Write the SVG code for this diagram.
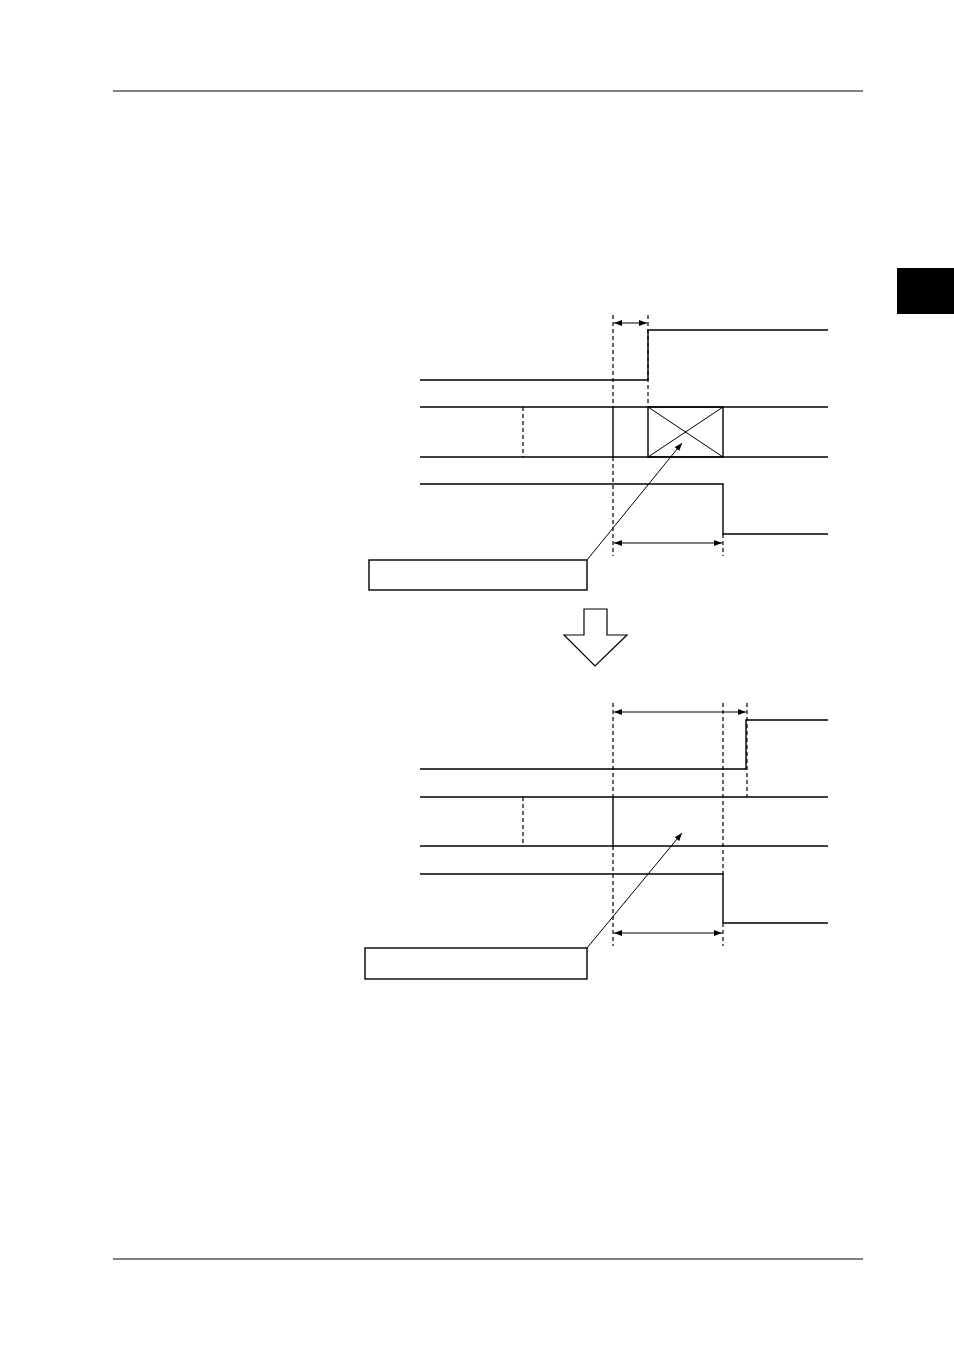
<svg xmlns="http://www.w3.org/2000/svg" width="954" height="1351" viewBox="0 0 954 1351">
<defs>
<marker id="ah" viewBox="0 0 8 6" refX="8" refY="3" markerWidth="8" markerHeight="6" markerUnits="userSpaceOnUse" orient="auto-start-reverse">
<path d="M0,0 L8,3 L0,6 z" fill="#000"/>
</marker>
<style>
.s{fill:none;stroke:#000;stroke-width:1.4}
.t{fill:none;stroke:#000;stroke-width:1}
.d{fill:none;stroke:#000;stroke-width:1.2;stroke-dasharray:4,3}
.a{fill:none;stroke:#000;stroke-width:1.2;marker-start:url(#ah);marker-end:url(#ah)}
.l{fill:none;stroke:#000;stroke-width:1;marker-end:url(#ah)}
</style>
</defs>
<rect width="954" height="1351" fill="#fff"/>
<g id="page">
<line class="t" x1="113" y1="91" x2="863" y2="91"/>
<line class="t" x1="113" y1="1259" x2="863" y2="1259"/>
<rect x="897" y="268" width="57" height="46" fill="#000"/>
</g>
<g id="diagram1">
<g id="d1-guides">
<line class="d" x1="613" y1="315" x2="613" y2="407"/>
<line class="d" x1="613" y1="457" x2="613" y2="556"/>
<line class="d" x1="648" y1="315" x2="648" y2="407"/>
<line class="d" x1="523" y1="407" x2="523" y2="457"/>
<line class="d" x1="723" y1="534" x2="723" y2="556"/>
</g>
<g id="d1-signal1"><polyline class="s" points="420,380 648,380 648,330 828,330"/></g>
<g id="d1-signal2">
<line class="s" x1="420" y1="407" x2="828" y2="407"/>
<line class="s" x1="420" y1="457" x2="828" y2="457"/>
<line class="s" x1="613" y1="407" x2="613" y2="457"/>
<rect class="s" x="648" y="407" width="75" height="50"/>
<line class="t" x1="648" y1="407" x2="723" y2="457"/>
<line class="t" x1="648" y1="457" x2="723" y2="407"/>
</g>
<g id="d1-signal3"><polyline class="s" points="420,484 723,484 723,534 828,534"/></g>
<g id="d1-callout"><rect class="s" x="369" y="560" width="218" height="30"/></g>
</g>
<g id="bigarrow">
<polygon points="584,609 607,609 607,635 627,635 595,666 564,635 584,635" fill="#fff" stroke="#000" stroke-width="1.2"/>
</g>
<g id="diagram2">
<g id="d2-guides">
<line class="d" x1="613" y1="703" x2="613" y2="797"/>
<line class="d" x1="613" y1="846" x2="613" y2="946"/>
<line class="d" x1="723" y1="703" x2="723" y2="874"/>
<line class="d" x1="723" y1="923" x2="723" y2="946"/>
<line class="d" x1="747" y1="703" x2="747" y2="797"/>
<line class="d" x1="523" y1="797" x2="523" y2="846"/>
</g>
<g id="d2-signal1"><polyline class="s" points="420,769 746,769 746,720 828,720"/></g>
<g id="d2-signal2">
<line class="s" x1="420" y1="797" x2="828" y2="797"/>
<line class="s" x1="420" y1="846" x2="828" y2="846"/>
<line class="s" x1="613" y1="797" x2="613" y2="846"/>
</g>
<g id="d2-signal3"><polyline class="s" points="420,874 723,874 723,923 828,923"/></g>
<g id="d2-callout"><rect class="s" x="365" y="948" width="222" height="31"/></g>
</g>
<g id="connectors">
<line class="a" x1="614" y1="323" x2="647" y2="323"/>
<line class="a" x1="614" y1="543" x2="722" y2="543"/>
<line class="l" x1="587" y1="560" x2="682" y2="443"/>
<line class="a" x1="614" y1="712" x2="746" y2="712"/>
<line class="a" x1="614" y1="933" x2="722" y2="933"/>
<line class="l" x1="587" y1="948" x2="682" y2="833"/>
</g>
</svg>
